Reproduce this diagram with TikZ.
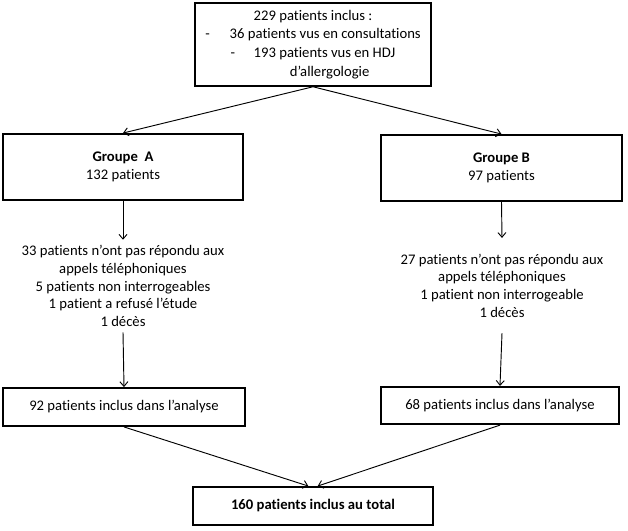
\documentclass[tikz,border=0pt]{standalone}
\usepackage{fontspec}
\setmainfont{Carlito}[Ligatures={TeX,NoCommon}]
\usepackage{tikz}
\usetikzlibrary{arrows.meta,positioning,calc}
\tikzset{
  boite/.style={draw,line width=1.4pt,minimum width=180pt,minimum height=49.5pt,align=center,inner sep=2pt},
  petiteboite/.style={boite,minimum height=28.5pt},
  texte/.style={align=center,minimum height=69pt,inner sep=2pt},
  fleche/.style={line width=0.7pt,-{Straight Barb[length=3.5pt,width=6pt]}}
}

\begin{document}
\begin{tikzpicture}[x=0.75pt,y=-0.75pt,font=\fontsize{11}{13.3}\selectfont]
\useasboundingbox (0,0) rectangle (628,531);
% inclusion
\node[boite,minimum width=177pt,minimum height=62pt,font=\fontsize{11}{14}\selectfont] (incl) at (313,44.5)
  {229 patients inclus :\\
   -\hspace{15pt}36 patients vus en consultations\\
   -\hspace{14pt}193 patients vus en HDJ\\
   \hspace*{25pt}d’allergologie};
% groupes
\node[boite] (grpA) at (123,167) {\textbf{Groupe\ \ A}\\132 patients};
\node[boite,minimum width=181pt] (grpB) at (501.5,168) {\textbf{Groupe B}\\97 patients};
% perdus de vue
\node[texte] (excA) at (123,286) {33 patients n’ont pas répondu aux\\appels téléphoniques\\5 patients non interrogeables\\1 patient a refusé l’étude\\1 décès};
\node[texte,minimum height=71pt] (excB) at (502,285.5) {27 patients n’ont pas répondu aux\\appels téléphoniques\\1 patient non interrogeable\\1 décès};
% analyse
\node[petiteboite,minimum width=181.5pt] (anaA) at (124,407) {92 patients inclus dans l’analyse};
\node[petiteboite,minimum width=178.5pt,minimum height=28pt] (anaB) at (500,405.5) {68 patients inclus dans l’analyse};
\node[petiteboite] (total) at (313,506) {\textbf{160 patients inclus au total}};

\draw[fleche] (incl.south) -- (grpA.north);
\draw[fleche] (incl.south) -- (grpB.north);
\draw[fleche] (grpA.south) -- (excA.north);
\draw[fleche] (grpB.south) -- (excB.north);
\draw[fleche] (excA.south) -- (anaA.north);
\draw[fleche] (excB.south) -- (anaB.north);
\draw[fleche] (anaA.south) -- ([xshift=-3.5pt]total.north);
\draw[fleche] (anaB.south) -- ([xshift=3.5pt]total.north);
\end{tikzpicture}
\end{document}
